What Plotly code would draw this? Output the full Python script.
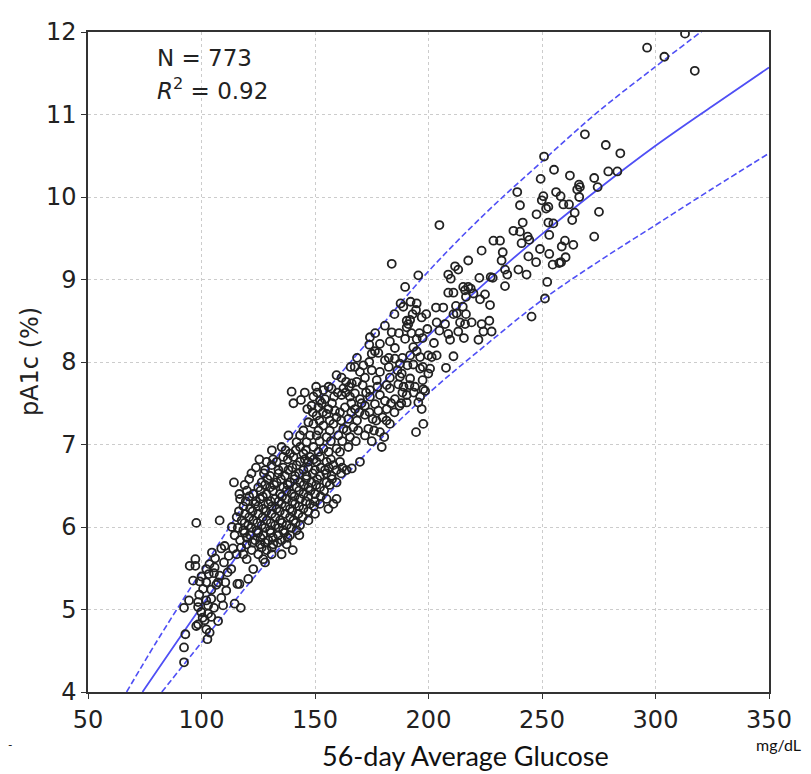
import plotly.graph_objects as go

# ---- scatter data (56-day average glucose mg/dL, pA1c %) ----
glucose = [
    # low range
    97.7, 108.0, 113.4, 114.6, 110.2, 108.7, 113.9, 104.6, 97.3, 94.8, 97.3, 102.1, 105.8, 109.9, 113.1,
    103.2, 105.5, 108.0, 96.3, 99.2, 102.1, 107.3, 110.5, 115.8, 100.7, 104.3, 110.9, 94.5, 98.5, 102.1,
    104.3, 108.7, 92.3, 98.5, 102.9, 109.5, 114.6, 99.9, 102.9, 98.5, 97.7, 101.4, 104.3, 107.3, 102.1,
    92.9, 103.6, 102.6, 92.3, 92.3,
    117.3, 116.7, 120.6, 122.8, 128.0,
    100.0, 106.5, 103.5, 99.0, 105.5, 100.5, 111.5, 106.0, 112.0,
    # 115-165 band
    139.7, 143.8, 140.5, 146.6, 147.1, 144.9, 138.3, 143.4, 147.8, 141.9, 146.3, 135.3, 143.4, 139.0, 144.9,
    136.0, 140.5, 147.8, 152.2,
    128.7, 133.1, 143.4, 147.1, 150.7, 155.1, 161.0,
    130.9, 141.9, 158.1,
    128.0, 133.9, 138.3, 144.9, 150.0, 154.4, 159.5, 163.9,
    130.2, 136.8, 141.2, 146.3, 152.2, 157.3,
    114.3, 126.5, 133.1, 139.0, 143.4, 148.5, 155.1, 159.5,
    125.0, 130.2, 136.0, 141.9, 147.1, 152.2,
    116.7, 122.8, 128.7, 134.6, 139.7, 144.9, 150.0,
    117.0, 125.8, 132.4, 137.5, 143.4, 155.1, 159.5,
    123.6, 129.4, 135.3, 141.2, 147.8, 152.2, 158.1,
    121.4, 127.2, 133.1, 139.0, 144.9, 155.9,
    119.2, 125.0, 130.9, 136.8, 142.7, 150.0,
    117.7, 122.8, 128.7, 134.6, 140.5, 147.1,
    120.6, 126.5, 132.4, 137.5, 143.4,
    118.4, 124.3, 130.2, 136.0, 141.9,
    121.4, 127.2, 133.9, 139.0, 143.1,
    117.0, 123.6, 129.4, 135.3,
    119.9, 125.8, 131.6, 137.5,
    122.1, 128.7, 140.2,
    115.5, 118.4, 125.0, 130.9, 135.3,
    119.9, 127.2,
    # crowded circles between the rows above
    131.0, 137.0, 141.5, 146.0,
    125.5, 131.5, 138.0, 145.5, 149.5, 157.0,
    124.0, 136.0, 140.0, 147.0, 152.5, 156.0, 162.0,
    122.0, 127.5, 134.0, 143.0, 149.0, 155.0, 161.5,
    121.0, 129.0, 135.0, 141.0, 146.0, 151.0, 157.5,
    119.0, 128.0, 132.0, 138.0, 145.0, 150.5, 156.5,
    120.0, 126.0, 131.5, 137.5, 143.0, 148.0, 154.0,
    121.0, 127.0, 135.5, 141.0, 147.0, 152.5,
    119.5, 124.0, 130.5, 134.0, 140.0, 146.0, 150.0,
    118.5, 125.0, 131.0, 137.0, 143.0, 149.5,
    116.5, 122.5, 128.5, 134.5, 140.0, 147.0,
    115.5, 121.0, 127.0, 132.5, 139.0, 144.5,
    119.0, 124.5, 130.5, 135.5, 141.5,
    116.0, 122.0, 128.0, 134.0, 139.5,
    119.0, 125.0, 130.5, 136.5,
    120.0, 126.0, 131.5, 138.0,
    122.5, 128.0, 133.5,
    117.5, 126.5, 131.0,
    # 148-200 band
    183.8, 195.5, 189.7, 187.7, 192.1, 194.8, 194.5, 188.9, 197.0, 190.4, 191.9, 190.4, 191.1, 180.8, 183.8,
    199.5, 174.2, 173.9, 178.6, 183.0, 176.4, 177.9, 175.0, 185.2, 189.7, 194.8, 197.4, 193.3, 194.8, 191.9,
    196.3, 199.9, 171.3, 173.9, 180.8, 185.2, 187.4, 190.7, 193.3, 165.7, 169.8, 175.0, 178.6, 186.3, 188.2,
    196.3, 199.9, 187.4, 183.0, 191.9, 197.4, 177.2, 172.0, 168.4, 163.7, 166.2, 159.5, 161.7, 153.7, 157.3,
    162.5, 171.0, 174.2, 181.6, 183.0, 186.7, 191.6, 197.7, 198.5, 149.3, 152.2, 154.4, 158.4, 161.7, 165.4,
    167.6, 169.8, 174.2, 178.6, 180.8, 185.2, 190.4, 195.5, 196.3, 148.5, 151.5, 155.9, 158.8, 163.2, 167.6,
    172.0, 176.4, 177.9, 181.6, 187.2, 190.4, 197.0, 150.7, 155.1, 159.5, 164.7, 172.0, 175.4, 179.8, 183.0,
    149.3, 153.7, 158.1, 162.5, 166.9, 173.5, 178.6, 172.0, 194.5, 197.7, 150.7, 155.1, 160.3, 165.4, 149.3,
    153.7, 159.5, 164.7, 179.4,
    169.8, 166.2, 180.5,
    150.5, 156.0, 165.0, 177.5, 189.0, 194.0,
    145.5, 151.0, 160.0, 163.5, 172.5, 188.5, 193.5,
    153.0, 157.5, 166.0, 170.5, 183.5, 188.0,
    149.0, 153.5, 161.0, 166.0, 169.5, 174.0, 185.0,
    152.0, 156.5, 161.5, 168.5, 177.0, 181.5,
    151.5, 156.5, 164.0, 169.0, 176.0,
    152.0, 157.0, 162.0, 168.0, 175.0,
    151.5, 156.0, 161.0,
    168.5, 182.5, 188.5,
    167.5, 182.5, 197.5,
    176.5, 187.0, 192.5, 196.0,
    185.0, 193.0, 199.0,
    # 200-260 band
    239.1, 250.6, 256.2, 258.2, 240.3, 249.9, 252.8, 251.8, 247.6, 204.8, 241.5, 237.4, 240.3, 252.8, 255.0,
    253.2, 243.7, 244.4, 241.0, 228.6, 231.5, 223.4, 232.7, 249.1, 253.2, 217.5, 232.2, 244.0, 247.4, 254.7,
    257.6, 211.7, 213.1, 208.7, 209.8, 233.7, 234.7, 239.6, 243.2, 222.4, 227.4, 228.3, 233.7, 252.3, 251.3,
    215.3, 217.5, 218.6, 216.1, 208.7, 211.0, 219.8, 224.9, 222.7, 216.5, 227.1, 203.3, 206.5, 212.1, 215.1,
    212.4, 211.0, 216.5, 219.0, 216.1, 213.9, 207.3, 203.6, 223.4, 226.8, 224.2, 227.8, 245.4, 204.8, 208.7,
    213.1, 209.5, 215.6, 222.0, 202.4, 203.6, 211.0, 201.4, 207.7, 200.7,
    250.9, 255.3, 249.4,
    # high range
    313.0, 296.3, 303.9, 317.3, 268.9, 278.1, 284.5, 262.3, 273.0, 279.2, 283.2, 266.3, 266.7, 274.5, 265.5,
    266.4, 259.4, 261.9, 264.4, 275.1, 263.3, 260.1, 263.8, 258.7, 273.0, 260.4, 258.4,
]

pa1c = [
    6.05, 6.08, 6.00, 5.90, 5.77, 5.74, 5.74, 5.69, 5.61, 5.53, 5.53, 5.49, 5.51, 5.57, 5.49,
    5.43, 5.44, 5.41, 5.35, 5.34, 5.33, 5.33, 5.33, 5.31, 5.25, 5.24, 5.23, 5.11, 5.09, 5.11,
    5.13, 5.14, 5.02, 5.03, 5.05, 5.05, 5.07, 4.97, 4.95, 4.82, 4.80, 4.87, 4.91, 4.86, 4.76,
    4.70, 4.72, 4.64, 4.54, 4.36,
    5.02, 5.31, 5.37, 5.49, 5.57,
    5.40, 5.30, 5.55, 5.18, 5.02, 4.90, 5.45, 5.62, 5.65,
    7.64, 7.54, 7.50, 7.43, 7.27, 7.17, 7.11, 7.11, 7.11, 7.03, 7.03, 6.97, 6.97, 6.89, 6.89,
    6.85, 6.85, 6.85, 6.85,
    6.79, 6.79, 6.79, 6.79, 6.79, 6.79, 6.79,
    6.75, 6.75, 6.75,
    6.69, 6.69, 6.69, 6.69, 6.69, 6.69, 6.69, 6.69,
    6.62, 6.62, 6.62, 6.62, 6.62, 6.62,
    6.54, 6.54, 6.54, 6.54, 6.54, 6.54, 6.54, 6.54,
    6.48, 6.48, 6.48, 6.48, 6.48, 6.48,
    6.40, 6.40, 6.40, 6.40, 6.40, 6.40, 6.40,
    6.34, 6.34, 6.34, 6.34, 6.34, 6.34, 6.34,
    6.28, 6.28, 6.28, 6.28, 6.28, 6.28, 6.28,
    6.22, 6.22, 6.22, 6.22, 6.22, 6.22,
    6.16, 6.16, 6.16, 6.16, 6.16, 6.16,
    6.08, 6.08, 6.08, 6.08, 6.08, 6.08,
    6.02, 6.02, 6.02, 6.02, 6.02,
    5.96, 5.96, 5.96, 5.96, 5.96,
    5.90, 5.90, 5.90, 5.90, 5.90,
    5.84, 5.84, 5.84, 5.84,
    5.79, 5.79, 5.79, 5.79,
    5.72, 5.72, 5.72,
    5.67, 5.67, 5.67, 5.67, 5.67,
    5.61, 5.61,
    6.93, 6.93, 6.93, 6.93,
    6.82, 6.82, 6.82, 6.82, 6.82, 6.82,
    6.72, 6.72, 6.72, 6.72, 6.72, 6.72, 6.72,
    6.65, 6.65, 6.65, 6.65, 6.65, 6.65, 6.65,
    6.58, 6.58, 6.58, 6.58, 6.58, 6.58, 6.58,
    6.51, 6.51, 6.51, 6.51, 6.51, 6.51, 6.51,
    6.44, 6.44, 6.44, 6.44, 6.44, 6.44, 6.44,
    6.37, 6.37, 6.37, 6.37, 6.37, 6.37,
    6.31, 6.31, 6.31, 6.31, 6.31, 6.31, 6.31,
    6.25, 6.25, 6.25, 6.25, 6.25, 6.25,
    6.19, 6.19, 6.19, 6.19, 6.19, 6.19,
    6.12, 6.12, 6.12, 6.12, 6.12, 6.12,
    6.05, 6.05, 6.05, 6.05, 6.05,
    5.99, 5.99, 5.99, 5.99, 5.99,
    5.93, 5.93, 5.93, 5.93,
    5.87, 5.87, 5.87, 5.87,
    5.81, 5.81, 5.81,
    5.75, 5.75, 5.75,
    9.19, 9.05, 8.91, 8.71, 8.73, 8.71, 8.63, 8.67, 8.54, 8.50, 8.51, 8.42, 8.46, 8.44, 8.36,
    8.40, 8.30, 8.21, 8.22, 8.25, 8.13, 8.11, 8.10, 8.17, 8.28, 8.28, 8.29, 8.18, 8.13, 8.08,
    8.06, 8.08, 7.96, 8.00, 8.02, 8.04, 7.98, 7.96, 7.97, 7.94, 7.88, 7.90, 7.88, 7.90, 7.86,
    7.92, 7.86, 7.82, 7.81, 7.80, 7.78, 7.78, 7.81, 7.76, 7.76, 7.74, 7.84, 7.81, 7.66, 7.68,
    7.68, 7.72, 7.66, 7.72, 7.68, 7.73, 7.72, 7.67, 7.65, 7.58, 7.53, 7.55, 7.58, 7.60, 7.58,
    7.62, 7.55, 7.58, 7.60, 7.53, 7.55, 7.60, 7.51, 7.58, 7.47, 7.45, 7.43, 7.41, 7.45, 7.43,
    7.47, 7.49, 7.41, 7.43, 7.47, 7.51, 7.43, 7.35, 7.37, 7.33, 7.31, 7.36, 7.31, 7.33, 7.25,
    7.25, 7.23, 7.25, 7.19, 7.21, 7.19, 7.15, 7.11, 7.15, 7.25, 7.11, 7.09, 7.11, 7.09, 6.97,
    6.95, 6.95, 6.97, 6.97,
    6.79, 6.71, 7.09,
    7.70, 7.70, 7.70, 7.70, 7.70, 7.70,
    7.63, 7.63, 7.63, 7.63, 7.63, 7.63, 7.63,
    7.50, 7.50, 7.50, 7.50, 7.50, 7.50,
    7.39, 7.39, 7.39, 7.39, 7.39, 7.39, 7.39,
    7.29, 7.29, 7.29, 7.29, 7.29, 7.29,
    7.17, 7.17, 7.17, 7.17, 7.17,
    7.04, 7.04, 7.04, 7.04, 7.04,
    6.91, 6.91, 6.91,
    8.05, 8.05, 8.05,
    7.94, 7.94, 7.94,
    8.35, 8.35, 8.35, 8.35,
    8.58, 8.58, 8.58,
    10.06, 10.01, 10.06, 10.01, 9.90, 9.96, 9.88, 9.86, 9.79, 9.66, 9.69, 9.59, 9.58, 9.69, 9.68,
    9.54, 9.52, 9.48, 9.44, 9.47, 9.47, 9.35, 9.33, 9.37, 9.31, 9.23, 9.23, 9.28, 9.21, 9.18,
    9.20, 9.16, 9.12, 9.06, 9.01, 9.12, 9.06, 9.12, 9.06, 9.02, 9.03, 9.02, 8.92, 8.97, 8.77,
    8.91, 8.91, 8.89, 8.87, 8.84, 8.84, 8.83, 8.82, 8.76, 8.79, 8.69, 8.66, 8.66, 8.68, 8.67,
    8.59, 8.58, 8.58, 8.48, 8.46, 8.48, 8.46, 8.48, 8.46, 8.50, 8.37, 8.37, 8.55, 8.38, 8.34,
    8.37, 8.27, 8.29, 8.27, 8.23, 8.08, 8.07, 8.06, 7.93, 7.92,
    10.49, 10.33, 10.22,
    11.98, 11.81, 11.70, 11.53, 10.76, 10.63, 10.53, 10.26, 10.23, 10.31, 10.31, 10.15, 10.12, 10.12, 10.09,
    10.00, 9.91, 9.91, 9.81, 9.82, 9.72, 9.47, 9.42, 9.40, 9.52, 9.27, 9.21,
]

# ---- fitted curve and prediction band ----
fit_x = [74, 100, 125, 150, 175, 200, 225, 250, 275, 300, 325, 350]
fit_y = [4.0, 5.04, 6.0, 6.85, 7.6, 8.32, 8.96, 9.55, 10.1, 10.62, 11.1, 11.57]

upper_x = [67, 80, 100, 125, 150, 175, 200, 225, 250, 275, 300, 320, 325]
upper_y = [4.0, 4.6, 5.47, 6.53, 7.48, 8.3, 9.1, 9.8, 10.43, 11.04, 11.58, 12.0, 12.1]

lower_x = [82.5, 100, 125, 150, 175, 200, 225, 250, 275, 300, 325, 350]
lower_y = [4.0, 4.6, 5.45, 6.22, 6.96, 7.62, 8.2, 8.75, 9.22, 9.66, 10.1, 10.53]

x_ticks = [50, 100, 150, 200, 250, 300, 350]
y_ticks = [4, 5, 6, 7, 8, 9, 10, 11, 12]

line_blue = "#4f4ff5"
font_main = "DejaVu Sans"

fig = go.Figure()
fig.add_trace(go.Scatter(x=upper_x, y=upper_y, mode="lines", line_shape="spline",
                         line=dict(color=line_blue, width=1.6, dash="6px,3px"), hoverinfo="skip"))
fig.add_trace(go.Scatter(x=lower_x, y=lower_y, mode="lines", line_shape="spline",
                         line=dict(color=line_blue, width=1.6, dash="6px,3px"), hoverinfo="skip"))
fig.add_trace(go.Scatter(x=fit_x, y=fit_y, mode="lines", line_shape="spline",
                         line=dict(color=line_blue, width=1.8)))
fig.add_trace(go.Scatter(x=glucose, y=pa1c, mode="markers",
                         marker=dict(symbol="circle-open", size=8, color="#222222",
                                     line=dict(width=1.8, color="#222222"))))

axis_common = dict(
    showgrid=True, gridcolor="#cccccc", griddash="dot", gridwidth=1,
    showline=True, mirror=True, linecolor="#333333", linewidth=1.5,
    ticks="outside", ticklen=5, tickcolor="#333333", tickwidth=1.2,
    tickfont=dict(family=font_main, size=24, color="#222222"),
    ticklabeloverflow="allow",
    zeroline=False,
)

# The page body adds an 8 px margin, so the figure is made 8 px smaller
# and the left/top margins 8 px smaller to land on the same pixels.
fig.update_layout(
    width=803, height=766,
    margin=dict(l=80, r=42, t=10, b=82),
    paper_bgcolor="white", plot_bgcolor="white",
    showlegend=False,
    xaxis=dict(range=[50, 350], tickvals=x_ticks, **axis_common),
    yaxis=dict(range=[4, 12], tickvals=y_ticks, **axis_common),
    annotations=[
        dict(text="N = 773", xref="paper", yref="paper", x=0.0984, y=0.961,
             xanchor="left", yanchor="middle", showarrow=False,
             font=dict(family=font_main, size=23, color="#222222")),
        dict(text="<i>R</i><sup>2</sup> = 0.92", xref="paper", yref="paper", x=0.0984, y=0.914,
             xanchor="left", yanchor="middle", showarrow=False,
             font=dict(family=font_main, size=23, color="#222222")),
        dict(text="pA1c (%)", xref="paper", yref="paper", x=-0.085, y=0.5,
             xanchor="center", yanchor="middle", textangle=-90, showarrow=False,
             font=dict(family=font_main, size=24, color="#222222")),
        dict(text="56-day Average Glucose", xref="paper", yref="paper", x=0.555, y=-0.0964,
             xanchor="center", yanchor="middle", showarrow=False,
             font=dict(family="Lato", size=27, color="#111111")),
        dict(text="mg/dL", xref="paper", yref="paper", x=1.0145, y=-0.0795,
             xanchor="center", yanchor="middle", showarrow=False,
             font=dict(family="Lato", size=16, color="#111111")),
        dict(text="-", xref="paper", yref="paper", x=-0.1145, y=-0.0795,
             xanchor="center", yanchor="middle", showarrow=False,
             font=dict(family="Lato", size=12, color="#111111")),
    ],
)

fig.write_html("out.html")
